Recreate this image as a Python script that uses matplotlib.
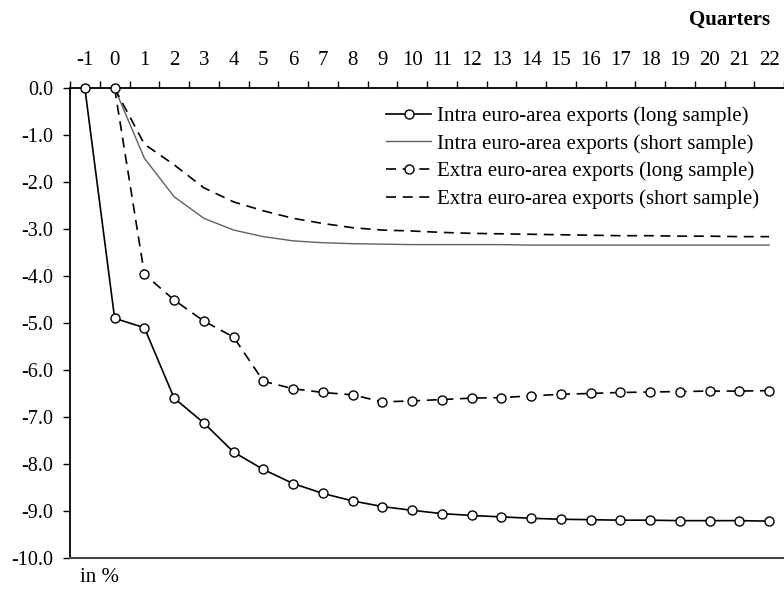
import numpy as np
import matplotlib
matplotlib.use("Agg")
import matplotlib.pyplot as plt
from matplotlib.ticker import MultipleLocator, FormatStrFormatter

plt.rcParams['font.family'] = ['Liberation Serif', 'DejaVu Serif']
plt.rcParams['axes.unicode_minus'] = False

# quarters after the shock
q_long = list(range(-1, 23))
q_short = list(range(0, 23))

intra_long = [0.0, -4.90, -5.10, -6.60, -7.13, -7.75, -8.12, -8.42, -8.63, -8.79,
              -8.91, -8.99, -9.06, -9.10, -9.13, -9.16, -9.18, -9.19, -9.20, -9.20,
              -9.21, -9.21, -9.21, -9.22]
intra_short = [0.0, -1.49, -2.31, -2.77, -3.02, -3.16, -3.25, -3.29, -3.31, -3.32,
               -3.33, -3.33, -3.33, -3.33, -3.34, -3.34, -3.34, -3.34, -3.34, -3.34,
               -3.34, -3.34, -3.34]
extra_long = [0.0, -3.96, -4.51, -4.96, -5.30, -6.24, -6.40, -6.48, -6.53, -6.68,
              -6.66, -6.63, -6.60, -6.59, -6.55, -6.52, -6.50, -6.48, -6.47, -6.46,
              -6.45, -6.45, -6.44]
extra_short = [0.0, -1.19, -1.63, -2.12, -2.42, -2.61, -2.77, -2.88, -2.97, -3.02,
               -3.04, -3.07, -3.09, -3.10, -3.11, -3.12, -3.13, -3.14, -3.14, -3.15,
               -3.15, -3.16, -3.16]

FS = 15

fig = plt.figure(figsize=(7.84, 5.91), dpi=100)
ax = fig.add_axes([0.0893, 0.0563, 0.9107, 0.7943])

mk = dict(marker='o', markersize=6.5, markerfacecolor='white',
          markeredgecolor='black', markeredgewidth=1.0, clip_on=False)

ax.plot(q_long, intra_long, color='black', lw=1.2,
        label='Intra euro-area exports (long sample)', zorder=4, **mk)
ax.plot(q_short, intra_short, color='#606060', lw=1.0,
        label='Intra euro-area exports (short sample)', zorder=3)
ax.plot(q_short, extra_long, color='black', lw=1.2, ls=(0, (6, 4)),
        label='Extra euro-area exports (long sample)', zorder=4, **mk)
ax.plot(q_short, extra_short, color='black', lw=1.2, ls=(0, (6, 4)),
        label='Extra euro-area exports (short sample)', zorder=3)

ax.set_xlim(-1.5, 22.5)
ax.set_ylim(-10, 0)

# x axis on top: labels on integers, tick marks between them
ax.xaxis.tick_top()
ax.xaxis.set_major_locator(MultipleLocator(1))
ax.xaxis.set_minor_locator(MultipleLocator(1, offset=0.5))
ax.tick_params(axis='x', which='major', length=0, labelsize=FS, pad=13)
ax.tick_params(axis='x', which='minor', length=5, width=1, direction='out')
ax.yaxis.set_major_locator(MultipleLocator(1))
ax.yaxis.set_major_formatter(FormatStrFormatter('%.1f'))
ax.tick_params(axis='y', length=5, width=1, labelsize=FS - 0.5, pad=7)

ax.spines['right'].set_visible(False)
ax.spines['bottom'].set_color('#444444')
ax.spines['bottom'].set_linewidth(1.5)
ax.spines['left'].set_linewidth(1.3)
ax.spines['top'].set_linewidth(1.3)

leg = ax.legend(loc='upper left', bbox_to_anchor=(0.442, 0.962), frameon=False,
                fontsize=FS, handlelength=2.2, handletextpad=0.25,
                labelspacing=0.38, numpoints=1, borderaxespad=0, borderpad=0)

fig.text(0.982, 0.966, 'Quarters', ha='right', va='center', fontsize=FS,
         fontweight='bold')
fig.text(0.102, 0.006, 'in %', ha='left', va='bottom', fontsize=FS)

fig.savefig('out.png', dpi=100)
